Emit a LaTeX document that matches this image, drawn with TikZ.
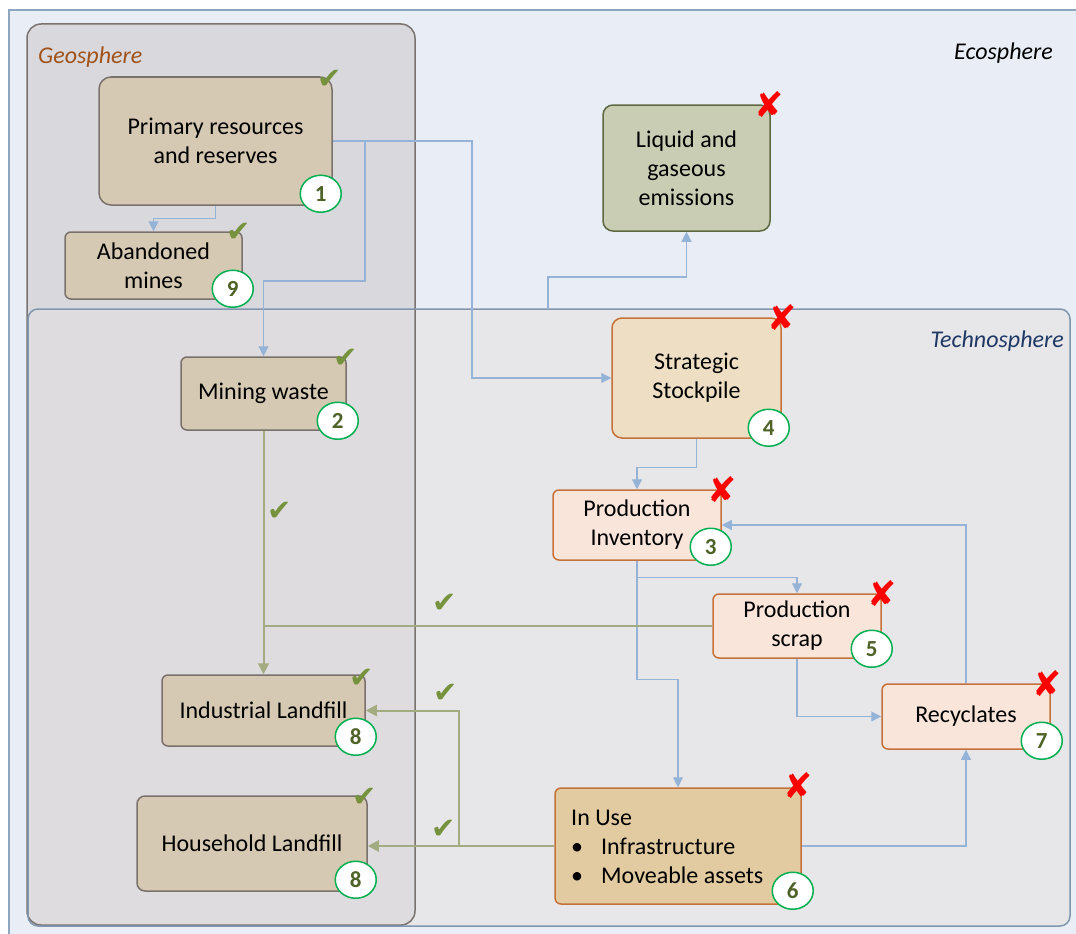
\documentclass[tikz,border=0pt]{standalone}
\usepackage{fontspec}
\setmainfont{Carlito}
\newfontfamily\symfont{DejaVu Sans}
\usetikzlibrary{arrows.meta,calc,shapes.geometric}

\definecolor{ecofill}{HTML}{E9EEF6}
\definecolor{ecoline}{HTML}{8EA6C0}
\definecolor{geofill}{HTML}{D9D9DD}
\definecolor{geoline}{HTML}{7A7371}
\definecolor{techfill}{HTML}{E7E6E9}
\definecolor{techline}{HTML}{8296AE}
\definecolor{overlapfill}{HTML}{DEDCDE}
\definecolor{tanfill}{HTML}{D6C9B3}
\definecolor{tanline}{HTML}{7A716D}
\definecolor{emfill}{HTML}{C9CDB4}
\definecolor{emline}{HTML}{5F6841}
\definecolor{stockfill}{HTML}{EEDFC4}
\definecolor{orangeline}{HTML}{C4713A}
\definecolor{peachfill}{HTML}{F9E5DA}
\definecolor{usefill}{HTML}{E2CBA0}
\definecolor{bluearrow}{HTML}{95B3D7}
\definecolor{greenarrow}{HTML}{A3AB80}
\definecolor{checkgreen}{HTML}{76923C}
\definecolor{badgeline}{HTML}{00B050}
\definecolor{badgetext}{HTML}{4F6228}
\definecolor{geolabel}{HTML}{A0521A}
\definecolor{techlabel}{HTML}{1F3864}

\begin{document}
\begin{tikzpicture}[x=1pt,y=-1pt,
  txt/.style={font=\fontsize{24}{29}\selectfont},
  box/.style={draw, line width=1.5pt, align=center, inner sep=0pt, txt},
  geobox/.style={box, fill=tanfill, draw=tanline},
  embox/.style={box, fill=emfill, draw=emline, rounded corners=10pt},
  stockbox/.style={box, fill=stockfill, draw=orangeline, rounded corners=10pt},
  peachbox/.style={box, fill=peachfill, draw=orangeline, rounded corners=6pt},
  usebox/.style={box, fill=usefill, draw=orangeline, rounded corners=6pt},
  badge/.style={ellipse, draw=badgeline, line width=1.5pt, fill=white,
    minimum width=41pt, minimum height=37pt, inner sep=0pt,
    text=badgetext, font=\bfseries\fontsize{23}{23}\selectfont},
  tick/.style={text=checkgreen, inner sep=0pt, font=\symfont\fontsize{29}{29}\selectfont},
  cross/.style={text=red, inner sep=0pt, font=\symfont\fontsize{35}{35}\selectfont},
  flow/.style={draw=bluearrow, line width=1.1pt, -{Triangle[length=10pt,width=10pt]}},
  waste/.style={draw=greenarrow, line width=2pt, -{Triangle[length=11pt,width=11pt]}},
  wasteline/.style={draw=greenarrow, line width=2pt},
  sphere/.style={inner sep=0pt, font=\itshape\fontsize{24}{29}\selectfont}
]
\useasboundingbox (0,0) rectangle (1076,934);

% ---- spheres ----
\fill[ecofill] (9,10) rectangle (1076,934);
\draw[ecoline, line width=1.5pt] (1076,10) -- (9,10) -- (9,934);
\fill[geofill, rounded corners=14pt] (27,24) rectangle (415,925);
\fill[techfill, rounded corners=10pt] (28,309) rectangle (1070,926);
\begin{scope}
  \clip[rounded corners=14pt] (27,24) rectangle (415,925);
  \fill[overlapfill, rounded corners=10pt] (28,309) rectangle (1070,926);
\end{scope}
\draw[geoline, line width=1.5pt, rounded corners=14pt] (27,24) rectangle (415,925);
\draw[techline, line width=1.5pt, rounded corners=10pt] (28,309) rectangle (1070,926);

\node[sphere, anchor=west, text=geolabel] (geolbl) at (38,57) {Geosphere};
\node[sphere, anchor=east] (ecolbl) at (1053,53) {Ecosphere};
\node[sphere, anchor=east, text=techlabel] (techlbl) at (1064,341) {Technosphere};

% ---- stocks ----
\node[geobox, rounded corners=12pt, minimum width=233pt, minimum height=128pt] (prim) at (215.5,141) {Primary resources\\and reserves};
\node[geobox, rounded corners=6pt, minimum width=177pt, minimum height=67pt] (aban) at (153.5,265.5) {Abandoned\\mines};
\node[geobox, rounded corners=6pt, minimum width=165pt, minimum height=73pt] (mw) at (263.5,393.5) {Mining waste};
\node[geobox, rounded corners=6pt, minimum width=203pt, minimum height=71pt] (il) at (263.5,710.5) {Industrial Landfill};
\node[geobox, rounded corners=8pt, minimum width=230pt, minimum height=95pt] (hl) at (252,843.5) {Household Landfill};
\node[embox, minimum width=167pt, minimum height=126pt] (em) at (686.5,168) {Liquid and\\gaseous\\emissions};
\node[stockbox, minimum width=169pt, minimum height=120pt] (sp) at (696.5,378) {Strategic\\Stockpile};
\node[peachbox, minimum width=168pt, minimum height=70pt] (inv) at (637,525) {Production\\Inventory};
\node[peachbox, minimum width=168pt, minimum height=64pt] (scrap) at (797,626) {Production\\scrap};
\node[peachbox, minimum width=168pt, minimum height=65pt] (rec) at (966,716.5) {Recyclates};
\node[usebox, minimum width=246pt, minimum height=116pt] (use) at (678,846) {};
\node[txt, anchor=west, align=left, inner sep=0pt] (usetext) at (571,847)
  {In Use\\\makebox[30pt][l]{•}Infrastructure\\\makebox[30pt][l]{•}Moveable assets};

% ---- material flows ----
\coordinate (mwturn) at (365,281);
\coordinate (spturn) at (472,141);
\coordinate (emstart) at (548,309);
\coordinate (embend) at (548,277);

\draw[flow] (prim.south) -- ++(0,13) -| (aban.north);
\draw[flow] (prim.east) -| (mwturn) -| (mw.north);
\draw[flow] (prim.east) -- (spturn) |- (sp.west);
\draw[flow] (emstart) -- (embend) -| (em.south);
\draw[flow] (sp.south) -- ++(0,29) -| (inv.north);
\draw[flow] (inv.south) -- ++(0,17) -| (scrap.north);
\draw[flow] (inv.south) -- ++(0,119) -| (use.north);
\draw[flow] (scrap.south) |- (rec.west);
\draw[flow] (rec.north) |- (inv.east);
\draw[flow] (use.east) -| (rec.south);

\draw[waste] (mw.south) -- (il.north);
\draw[wasteline] (scrap.west) -- (scrap.west -| mw.south);
\draw[waste] (use.west) -- (use.west -| hl.east);
\draw[waste] ([xshift=-95pt]use.west) |- (il.east);

% ---- numbered badges ----
\node[badge] (b1) at ([shift={(-12,-12)}]prim.south east) {1};
\node[badge] (b9) at ([shift={(-10,-11)}]aban.south east) {9};
\node[badge] (b2) at ([shift={(-9,-10)}]mw.south east) {2};
\node[badge] (b4) at ([shift={(-13,-11)}]sp.south east) {4};
\node[badge] (b3) at ([shift={(-11,-14)}]inv.south east) {3};
\node[badge] (b5) at ([shift={(-10,-10)}]scrap.south east) {5};
\node[badge] (b7) at ([shift={(-9,-9)}]rec.south east) {7};
\node[badge] (b6) at ([shift={(-9,-14)}]use.south east) {6};
\node[badge] (b8a) at ([shift={(-10,-10)}]il.south east) {8};
\node[badge] (b8b) at ([shift={(-12,-12)}]hl.south east) {8};

% ---- assessment marks ----
\node[tick] (t1) at ([shift={(-3,3)}]prim.north east) {✔};
\node[tick] (t9) at ([shift={(-4,1)}]aban.north east) {✔};
\node[tick] (t2) at ([shift={(-1,2)}]mw.north east) {✔};
\node[tick] (t8a) at ([shift={(-4,4)}]il.north east) {✔};
\node[tick] (t8b) at ([shift={(-3,2)}]hl.north east) {✔};
\node[tick] (tmw) at (280,511) {✔};
\node[tick] (tscrap) at (445,603) {✔};
\node[tick] (til) at (446,693) {✔};
\node[tick] (thl) at (444,829) {✔};

\node[cross] (x4) at (sp.north east) {✘};
\node[cross] (xem) at ([shift={(-2,0)}]em.north east) {✘};
\node[cross] (x3) at (inv.north east) {✘};
\node[cross] (x5) at (scrap.north east) {✘};
\node[cross] (x7) at ([shift={(-4,0)}]rec.north east) {✘};
\node[cross] (x6) at ([shift={(-4,-2)}]use.north east) {✘};
\end{tikzpicture}
\end{document}
